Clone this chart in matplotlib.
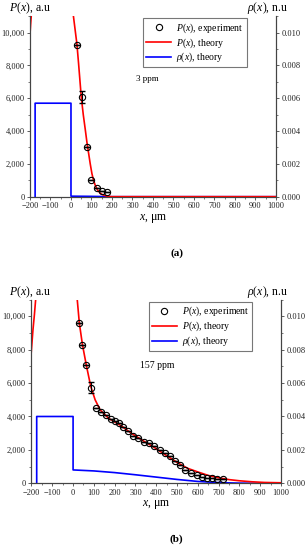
import numpy as np
import matplotlib
matplotlib.use('Agg')
import matplotlib.pyplot as plt
from matplotlib.ticker import FuncFormatter, MultipleLocator

plt.rcParams['font.family'] = ['Liberation Serif', 'DejaVu Serif']
plt.rcParams['mathtext.fontset'] = 'custom'
plt.rcParams['mathtext.rm'] = 'Liberation Serif'
plt.rcParams['mathtext.it'] = 'Liberation Serif:italic'

# ---- panel (a): 3 ppm ----
a_exp_x = [29, 53, 78, 99, 127, 151, 175]
a_exp_y = [9250, 6100, 3020, 1020, 510, 350, 305]
a_exp_err = [0, 370, 0, 0, 0, 0, 0]

a_th_left_x = [-200, -197, -194]
a_th_left_y = [9900, 10500, 11000]
a_th_x = [12, 20, 29, 37, 50, 60, 70, 78, 86, 94, 102, 110, 118, 130, 143, 160, 175, 190, 200, 300, 500, 1000]
a_th_y = [11000, 10200, 9300, 8130, 6100, 5000, 4070, 3300, 2650, 2000, 1420, 1000, 710, 400, 200, 90, 40, 10, 0, 0, 0, 0]

a_rho_x = [-175, -175, 0, 0, 100, 200, 1000]
a_rho_y = [0, 0.0057, 0.0057, 0.00003, 0.00002, 0.0, 0.0]

# ---- panel (b): 157 ppm ----
b_exp_x = [29, 45, 64, 85, 110, 134, 158, 182, 200, 219, 240, 263, 287, 311, 339, 363,
           387, 416, 442, 465, 492, 516, 540, 568, 594, 621, 645, 669, 693, 719]
b_exp_y = [9580, 8280, 7080, 5730, 4500, 4240, 4060, 3860, 3700, 3600, 3400, 3160, 2860,
           2700, 2500, 2440, 2240, 2000, 1800, 1640, 1360, 1080, 800, 600, 480, 400, 320,
           300, 280, 260]
b_exp_err = [0, 0, 0, 340] + [0] * 26

b_th_left_x = [-201, -193, -186, -180]
b_th_left_y = [7880, 9180, 10100, 11000]
b_th_x = [20, 30, 45, 64, 85, 106, 130, 170, 230, 280, 330, 390, 450, 500, 550, 600, 650,
          700, 750, 800, 860, 920, 1000]
b_th_y = [11000, 9600, 8300, 7050, 5800, 5000, 4400, 3900, 3450, 3000, 2600, 2150, 1650,
          1250, 900, 680, 470, 330, 220, 150, 90, 50, 30]

b_rho_x = [-175, -175, 0, 0, 100, 200, 300, 400, 500, 600, 700, 800, 900, 1000]
b_rho_y = [0, 0.004, 0.004, 0.0008, 0.00074, 0.00064, 0.00051, 0.00037, 0.00023, 0.00011,
           0.00004, 0.00001, 0.0, 0.0]

fig = plt.figure(figsize=(3.07, 5.5), dpi=100)
spine_col = '#444444'


def panel(rect, exp_x, exp_y, exp_err, lx, ly, tx, ty, rx, ry, note, note_xy, note_size,
          leg_xy, label_y, tag, tag_y):
    ax = fig.add_axes(rect)
    ax2 = ax.twinx()
    ax.set_xlim(-200, 1000)
    ax.set_ylim(0, 11000)
    ax2.set_ylim(0, 0.011)

    ax.plot(lx, ly, color='red', lw=1.2)
    th, = ax.plot(tx, ty, color='red', lw=1.2)
    rh, = ax2.plot(rx, ry, color='blue', lw=1.2)
    ax.errorbar(exp_x, exp_y, yerr=exp_err, fmt='none', ecolor='black',
                elinewidth=0.8, capsize=2, zorder=5)
    ex, = ax.plot(exp_x, exp_y, 'o', mfc='none', mec='black', ms=4.5, mew=0.8, zorder=6)
    ax.set_zorder(ax2.get_zorder() + 1)
    ax.patch.set_visible(False)

    for a in (ax, ax2):
        a.spines['top'].set_visible(False)
        for s in a.spines.values():
            s.set_color(spine_col)
            s.set_linewidth(0.8)
        a.tick_params(labelsize=6, length=2.5, width=0.6, colors=spine_col,
                      labelcolor='#222222', pad=1.5)
        a.tick_params(which='minor', length=1.5, width=0.5, colors=spine_col)

    ax.xaxis.set_major_locator(MultipleLocator(100))
    ax.xaxis.set_minor_locator(MultipleLocator(50))
    ax.yaxis.set_major_locator(MultipleLocator(2000))
    ax.yaxis.set_minor_locator(MultipleLocator(1000))
    ax.yaxis.set_major_formatter(FuncFormatter(lambda v, p: f'{v:,.0f}'))
    ax2.yaxis.set_major_locator(MultipleLocator(0.002))
    ax2.yaxis.set_minor_locator(MultipleLocator(0.001))
    ax2.yaxis.set_major_formatter(FuncFormatter(lambda v, p: f'{v:.3f}'))

    ax.set_xlabel(r'$x$, μm', fontsize=8.5, labelpad=1)
    ax.text(*note_xy, note, fontsize=note_size, ha='center', va='center')

    fig.text(0.03, label_y, r'$P$($x$), a.u', fontsize=8.5, va='center')
    fig.text(0.805, label_y, r'$\rho$($x$), n.u', fontsize=8.5, va='center')
    fig.text(0.575, tag_y, tag, fontsize=8, fontweight='bold', ha='center', va='center')

    leg = ax.legend([ex, th, rh],
                    [r'$P$($x$), experiment', r'$P$($x$), theory', r'$\rho$($x$), theory'],
                    loc='upper left', bbox_to_anchor=leg_xy, bbox_transform=fig.transFigure,
                    fontsize=7, frameon=True, fancybox=False, edgecolor='#777777',
                    framealpha=1, handlelength=2.6, handletextpad=0.5, borderpad=0.3,
                    labelspacing=0.15, borderaxespad=0)
    leg.get_frame().set_linewidth(0.8)
    return ax


panel([0.0977, 0.6424, 0.801, 0.328], a_exp_x, a_exp_y, a_exp_err,
      a_th_left_x, a_th_left_y, a_th_x, a_th_y, a_rho_x, a_rho_y,
      '3 ppm', (372, 7180), 6.5, (0.466, 0.967), 1 - 8 / 550, '(a)', 1 - 253 / 550)

panel([0.1026, 0.1213, 0.8127, 0.334], b_exp_x, b_exp_y, b_exp_err,
      b_th_left_x, b_th_left_y, b_th_x, b_th_y, b_rho_x, b_rho_y,
      '157 ppm', (405, 7080), 7, (0.485, 0.451), 1 - 292 / 550, '(b)', 1 - 539 / 550)

fig.savefig('out.png', dpi=100)
